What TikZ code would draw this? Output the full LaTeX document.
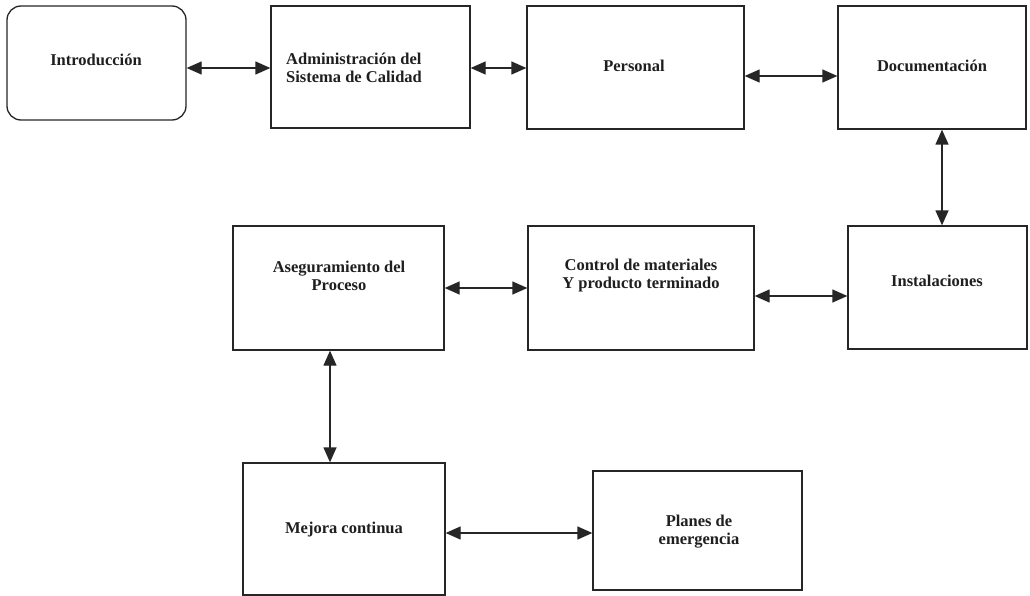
\documentclass[tikz,border=0pt]{standalone}
\usepackage{fontspec}
\setmainfont{Liberation Serif}
\usetikzlibrary{arrows.meta}
\begin{document}
\begin{tikzpicture}[x=1pt,y=-1pt,
  box/.style={draw=black!85, line width=1.3pt, rectangle, inner sep=0pt},
  lbl/.style={font=\bfseries\fontsize{16.5}{18}\selectfont, align=center, text=black!88, inner sep=0pt},
  link/.style={draw=black!85, line width=1.3pt,
    {Triangle[length=15pt,width=13pt]}-{Triangle[length=15pt,width=13pt]}}]
\useasboundingbox (0,0) rectangle (1030,596);
\fill[white] (0,0) rectangle (1030,596);

% boxes
\node[box, rounded corners=14pt, minimum width=179pt, minimum height=114pt] (intro) at (96.5,63) {};
\node[box, minimum width=199pt, minimum height=122pt] (admin) at (370.5,67) {};
\node[box, minimum width=217pt, minimum height=123pt] (pers) at (635.5,67.5) {};
\node[box, minimum width=188pt, minimum height=123pt] (doc) at (932,67.5) {};
\node[box, minimum width=179pt, minimum height=123pt] (inst) at (937.5,287.5) {};
\node[box, minimum width=226pt, minimum height=124pt] (ctrl) at (641,288) {};
\node[box, minimum width=211pt, minimum height=124pt] (aseg) at (338.5,288) {};
\node[box, minimum width=202pt, minimum height=132pt] (mejora) at (344,529) {};
\node[box, minimum width=209pt, minimum height=119pt] (planes) at (697.5,530.5) {};

% labels
\node[lbl] (tintro) at (96,60) {Introducción};
\node[lbl, anchor=west, align=left] (tadmin) at (286,68) {Administración del\\Sistema de Calidad};
\node[lbl] (tpers) at (634,66) {Personal};
\node[lbl] (tdoc) at (932,66) {Documentación};
\node[lbl] (tinst) at (937,281) {Instalaciones};
\node[lbl] (tctrl) at (641,276) {Control de materiales\\Y producto terminado};
\node[lbl] (taseg) at (339,276) {Aseguramiento del\\Proceso};
\node[lbl] (tmejora) at (344,530) {Mejora continua};
\node[lbl] (tplanes) at (699,532) {Planes de\\emergencia};

% connectors
\draw[link] (intro.east |- 0,68) -- (admin.west |- 0,68);
\draw[link] (admin.east |- 0,68) -- (pers.west |- 0,68);
\draw[link] (pers.east |- 0,76) -- (doc.west |- 0,76);
\draw[link] (doc.south -| 942,0) -- (inst.north -| 942,0);
\draw[link] (ctrl.east |- 0,296) -- (inst.west |- 0,296);
\draw[link] (aseg.east |- 0,288) -- (ctrl.west |- 0,288);
\draw[link] (aseg.south -| 330,0) -- (mejora.north -| 330,0);
\draw[link] (mejora.east |- 0,533) -- (planes.west |- 0,533);
\end{tikzpicture}
\end{document}
